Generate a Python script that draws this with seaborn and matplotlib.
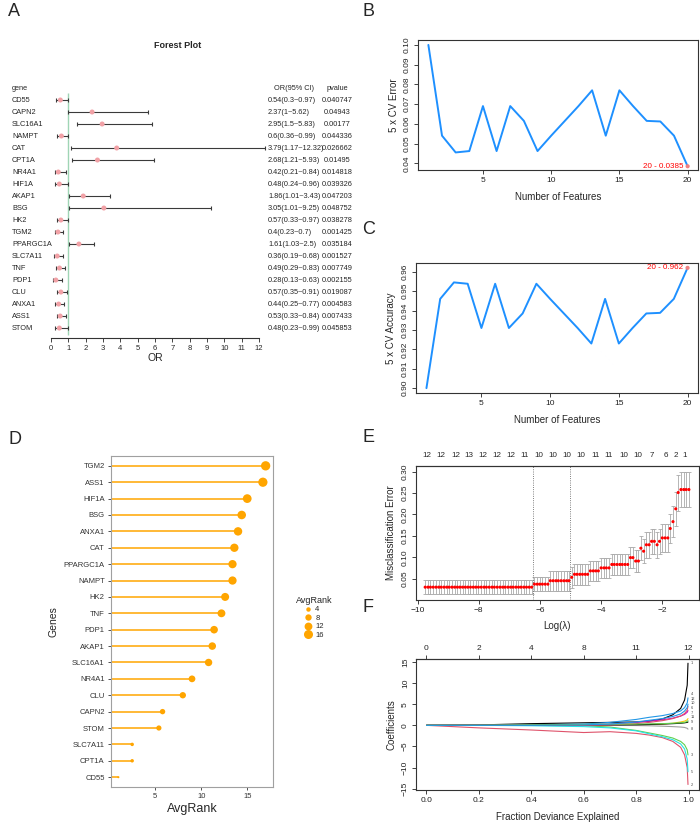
import numpy as np
import pandas as pd
import matplotlib
matplotlib.use("Agg")
import matplotlib.pyplot as plt
import seaborn as sns
from matplotlib import transforms
from matplotlib.lines import Line2D

# ---------------- data ----------------
# A: forest plot (univariate logistic regression)
fp_genes = ["CD55", "CAPN2", "SLC16A1", "NAMPT", "CAT", "CPT1A", "NR4A1", "HIF1A", "AKAP1", "BSG",
            "HK2", "TGM2", "PPARGC1A", "SLC7A11", "TNF", "PDP1", "CLU", "ANXA1", "ASS1", "STOM"]
fp_or = [0.54, 2.37, 2.95, 0.6, 3.79, 2.68, 0.42, 0.48, 1.86, 3.05,
         0.57, 0.4, 1.61, 0.36, 0.49, 0.28, 0.57, 0.44, 0.53, 0.48]
fp_lo = [0.3, 1, 1.5, 0.36, 1.17, 1.21, 0.21, 0.24, 1.01, 1.01,
         0.33, 0.23, 1.03, 0.19, 0.29, 0.13, 0.35, 0.25, 0.33, 0.23]
fp_hi = [0.97, 5.62, 5.83, 0.99, 12.32, 5.93, 0.84, 0.96, 3.43, 9.25,
         0.97, 0.7, 2.5, 0.68, 0.83, 0.63, 0.91, 0.77, 0.84, 0.99]
fp_p = [0.040747, 0.04943, 0.00177, 0.044336, 0.026662, 0.01495, 0.014818, 0.039326, 0.047203, 0.048752,
        0.038278, 0.001425, 0.035184, 0.001527, 0.007749, 0.002155, 0.019087, 0.004583, 0.007433, 0.045853]
or_ticks = list(range(0, 13))

# B / C: SVM-RFE curves
n_features = list(range(1, 21))
cv_error = [0.100, 0.054, 0.0455, 0.0462, 0.069, 0.0462, 0.069, 0.0615, 0.0462, 0.054,
            0.0615, 0.069, 0.077, 0.054, 0.077, 0.069, 0.0615, 0.0612, 0.054, 0.0385]
cv_acc = [0.900, 0.946, 0.9545, 0.9538, 0.931, 0.9538, 0.931, 0.9385, 0.9538, 0.946,
          0.9385, 0.931, 0.923, 0.946, 0.923, 0.931, 0.9385, 0.9388, 0.946, 0.962]

# D: average rank lollipop
rank_genes = ["TGM2", "ASS1", "HIF1A", "BSG", "ANXA1", "CAT", "PPARGC1A", "NAMPT", "HK2", "TNF",
              "PDP1", "AKAP1", "SLC16A1", "NR4A1", "CLU", "CAPN2", "STOM", "SLC7A11", "CPT1A", "CD55"]
avg_rank = [17.0, 16.7, 15.0, 14.4, 14.0, 13.6, 13.4, 13.4, 12.6, 12.2,
            11.4, 11.2, 10.8, 9.0, 8.0, 5.8, 5.4, 2.5, 2.5, 1.0]
rank_legend = [4, 8, 12, 16]

# E: LASSO cross-validation
log_lambda = [-9.75, -9.66, -9.58, -9.49, -9.40, -9.31, -9.23, -9.14, -9.05, -8.97,
              -8.88, -8.79, -8.70, -8.62, -8.53, -8.44, -8.36, -8.27, -8.18, -8.10,
              -8.01, -7.92, -7.83, -7.75, -7.66, -7.57, -7.49, -7.40, -7.31, -7.22,
              -7.14, -7.05, -6.96, -6.88, -6.79, -6.70, -6.62, -6.53, -6.44, -6.35,
              -6.27, -6.18, -6.09, -6.01, -5.92, -5.83, -5.74, -5.66, -5.57, -5.48,
              -5.40, -5.31, -5.22, -5.13, -5.05, -4.96, -4.87, -4.79, -4.70, -4.61,
              -4.52, -4.44, -4.35, -4.26, -4.18, -4.09, -4.00, -3.91, -3.83, -3.74,
              -3.65, -3.57, -3.48, -3.39, -3.31, -3.22, -3.13, -3.04, -2.96, -2.87,
              -2.78, -2.70, -2.61, -2.52, -2.43, -2.35, -2.26, -2.17, -2.09, -2.00,
              -1.91, -1.82, -1.74, -1.65, -1.56, -1.48, -1.39, -1.30, -1.22, -1.13]
cv_mean = ([0.030] * 41 + [0.037] * 6 + [0.045] * 8 + [0.053] + [0.060] * 6 + [0.068] * 4
           + [0.075] * 4 + [0.083] * 7 + [0.099] * 2 + [0.091] * 2
           + [0.121, 0.114, 0.129, 0.129, 0.137, 0.137, 0.129, 0.137, 0.145, 0.145, 0.145,
              0.167, 0.183, 0.213, 0.251, 0.258, 0.258, 0.258, 0.258])
cv_sd = ([0.0165] * 41 + [0.017] * 6 + [0.0235] * 8 + [0.024] + [0.024] * 6 + [0.024] * 4
         + [0.024] * 4 + [0.024] * 7 + [0.025] * 2 + [0.025] * 2
         + [0.028, 0.028, 0.03, 0.03, 0.03, 0.03, 0.03, 0.03, 0.032, 0.032, 0.032,
            0.035, 0.036, 0.04, 0.042, 0.041, 0.041, 0.041, 0.041])
lambda_min = -6.215
lambda_1se = -5.02
e_top_pos = [-9.70, -9.23, -8.76, -8.31, -7.85, -7.39, -6.94, -6.49, -6.02, -5.57,
             -5.11, -4.65, -4.19, -3.74, -3.26, -2.80, -2.34, -1.88, -1.56, -1.27]
e_top_nz = [12, 12, 12, 13, 12, 12, 12, 11, 10, 10, 10, 10, 11, 11, 10, 10, 7, 6, 2, 1]

# F: LASSO coefficient paths
dev_frac = [0.0, 0.2, 0.4, 0.6, 0.7, 0.8, 0.85, 0.9, 0.94, 0.97, 0.985, 0.995, 0.998]
coef_paths = {
    1: [0, 0.1, 0.4, 0.6, 0.7, 0.8, 1.0, 1.5, 2.5, 4.0, 6.0, 9.5, 14.7],
    2: [0, -0.6, -1.1, -1.7, -1.5, -1.9, -2.3, -2.9, -3.8, -5.2, -7.0, -10.0, -14.0],
    3: [0, 0, 0, -0.1, -0.4, -1.2, -1.8, -2.4, -3.0, -3.8, -4.6, -5.8, -7.0],
    4: [0, 0, 0.1, 0.3, 0.7, 1.4, 1.9, 2.3, 2.8, 3.4, 4.2, 5.3, 6.5],
    5: [0, 0, -0.1, -0.3, -0.6, -1.3, -2.0, -2.7, -3.4, -4.4, -5.6, -8.0, -11.0],
    6: [0, 0, 0, 0.1, 0.3, 0.7, 1.0, 1.3, 1.7, 2.2, 2.6, 3.1, 3.5],
    7: [0, 0, 0, 0, 0.05, 0.1, 0.2, 0.3, 0.5, 0.8, 1.0, 1.3, 1.6],
    8: [0, 0, 0, 0, 0, -0.05, -0.1, -0.2, -0.3, -0.4, -0.5, -0.7, -0.9],
    9: [0, 0, 0, 0.05, 0.1, 0.15, 0.2, 0.3, 0.4, 0.5, 0.6, 0.7, 0.8],
    10: [0, 0, 0, 0, 0.1, 0.4, 0.7, 1.1, 1.6, 2.2, 2.8, 3.6, 4.5],
    11: [0, 0, 0.1, 0.2, 0.3, 0.3, 0.35, 0.4, 0.5, 0.6, 0.7, 0.9, 1.1],
    12: [0, 0, 0, 0.1, 0.3, 0.8, 1.2, 1.6, 2.1, 2.7, 3.4, 4.2, 5.0],
}
f_top_pos = [0.0, 0.2, 0.4, 0.6, 0.8, 1.0]
f_top_df = [0, 2, 4, 8, 11, 12]

# ---------------- style ----------------
sns.set_style("ticks")
plt.rcParams['font.family'] = ['Liberation Sans', 'DejaVu Sans']
plt.rcParams['axes.linewidth'] = 0.8

W, H = 700, 824
fig = plt.figure(figsize=(7, 8.24), dpi=100)


def px_ax(l, t, r, b):
    return fig.add_axes([l / W, 1 - b / H, (r - l) / W, (b - t) / H])


def ftext(x, y, s, **kw):
    fig.text(x / W, 1 - y / H, s, **kw)


def r_axes(ax, xt, yt, yfmt="{:.2f}"):
    for sp in ax.spines.values():
        sp.set_visible(True)
        sp.set_color("#333333")
        sp.set_linewidth(0.8)
    ax.set_xticks(xt)
    ax.set_yticks(yt, [yfmt.format(v) for v in yt], rotation=90, va="center")
    ax.tick_params(direction="out", length=3, width=0.6, labelsize=6, pad=2, colors="#222222")


# ---------------- A: forest plot ----------------
axA = px_ax(51, 88, 259, 338)
rows = np.arange(len(fp_genes))
axA.set_xlim(0, 12)
axA.set_ylim(19.83, -1.0)
axA.vlines(1, -0.6, len(fp_genes) - 0.4, color="#9FD5B5", lw=1.0, zorder=1)
orr = np.array(fp_or)
eb = axA.errorbar(fp_or, rows, xerr=[orr - np.array(fp_lo), np.array(fp_hi) - orr], fmt="none",
                  ecolor="#3a3a3a", elinewidth=0.8, capsize=1.6, capthick=0.8, zorder=2)
for art in list(eb.lines[1]) + list(eb.lines[2]):
    art.set_clip_on(False)
sns.scatterplot(x=fp_or, y=rows, ax=axA, color="#F1A1A6", s=13, edgecolor="none", zorder=3, clip_on=False)
for s in ["left", "top", "right"]:
    axA.spines[s].set_visible(False)
axA.spines["bottom"].set_bounds(0, 12)
axA.spines["bottom"].set_color("#333333")
axA.set_xticks(or_ticks)
axA.set_yticks([])
axA.tick_params(axis="x", direction="out", length=3, width=0.6, labelsize=5.5, pad=2)
axA.set_xlabel("OR", fontsize=7.5, labelpad=1)
tA = transforms.blended_transform_factory(fig.transFigure, axA.transData)
axA.text(12 / W, -1, "gene", transform=tA, ha="left", va="center", fontsize=5.3)
axA.text(294 / W, -1, "OR(95% CI)", transform=tA, ha="center", va="center", fontsize=5.3)
axA.text(337 / W, -1, "pvalue", transform=tA, ha="center", va="center", fontsize=5.3)
for i, g in enumerate(fp_genes):
    axA.text(12 / W, i, g, transform=tA, ha="left", va="center", fontsize=5.3)
    axA.text(268 / W, i, f"{fp_or[i]:g}({fp_lo[i]:g}~{fp_hi[i]:g})", transform=tA,
             ha="left", va="center", fontsize=5.3)
    axA.text(337 / W, i, f"{fp_p[i]}", transform=tA, ha="center", va="center", fontsize=5.3)
ftext(178, 46, "Forest Plot", ha="center", va="center", fontsize=6.5, fontweight="bold")

# ---------------- B: CV error ----------------
axB = px_ax(418, 40, 698, 170)
sns.lineplot(x=n_features, y=cv_error, ax=axB, color="#1E90FF", lw=1.4)
sns.scatterplot(x=n_features[-1:], y=cv_error[-1:], ax=axB, color="#F08080", s=9, edgecolor="none", zorder=3)
axB.annotate(f"{n_features[-1]} - {cv_error[-1]}", (n_features[-1], cv_error[-1]), xytext=(-3, 0),
             textcoords="offset points", ha="right", va="center", color="red", fontsize=5.8)
axB.set_xlim(0.24, 20.76)
axB.set_ylim(0.0366, 0.1025)
r_axes(axB, [5, 10, 15, 20], [0.04, 0.05, 0.06, 0.07, 0.08, 0.09, 0.10])
axB.set_xlabel("Number of Features", fontsize=7, labelpad=6)
axB.set_ylabel("5 x CV Error", fontsize=7, labelpad=4)

# ---------------- C: CV accuracy ----------------
axC = px_ax(416, 263, 698, 393)
sns.lineplot(x=n_features, y=cv_acc, ax=axC, color="#1E90FF", lw=1.4)
sns.scatterplot(x=n_features[-1:], y=cv_acc[-1:], ax=axC, color="#F08080", s=9, edgecolor="none", zorder=3)
axC.annotate(f"{n_features[-1]} - {cv_acc[-1]}", (n_features[-1], cv_acc[-1]), xytext=(-3, 0),
             textcoords="offset points", ha="right", va="center", color="red", fontsize=5.8)
axC.set_xlim(0.24, 20.76)
axC.set_ylim(0.8975, 0.9645)
r_axes(axC, [5, 10, 15, 20], [0.90, 0.91, 0.92, 0.93, 0.94, 0.95, 0.96])
axC.set_xlabel("Number of Features", fontsize=7, labelpad=6)
axC.set_ylabel("5 x CV Accuracy", fontsize=7, labelpad=4)

# ---------------- D: lollipop ----------------
axD = px_ax(111, 456, 273, 787)
rr = np.arange(len(rank_genes))
orange = "#FFA500"
axD.hlines(rr, 0, avg_rank, color=orange, lw=1.1, zorder=2)
sns.scatterplot(x=avg_rank, y=rr, size=avg_rank, sizes=(2.3, 45), size_norm=(1, 17),
                color=orange, edgecolor="none", legend=False, ax=axD, zorder=3)
axD.set_xlim(0.2, 17.8)
axD.set_ylim(len(rank_genes) - 0.4, -0.6)
axD.set_xticks([5, 10, 15])
axD.set_yticks(rr, rank_genes)
for sp in axD.spines.values():
    sp.set_visible(True)
    sp.set_color("#A0A0A0")
    sp.set_linewidth(0.8)
axD.tick_params(direction="out", length=2.5, width=0.6, labelsize=5.5, pad=2, colors="#333333")
axD.set_xlabel("AvgRank", fontsize=9, labelpad=2)
axD.set_ylabel("Genes", fontsize=7.5, labelpad=4)
handles = [Line2D([], [], ls="", marker="o", color=orange, markeredgewidth=0,
                  markersize=np.sqrt(2.3 + (v - 1) / 16 * 42.7)) for v in rank_legend]
fig.legend(handles, [str(v) for v in rank_legend], title="AvgRank", loc="upper left",
           bbox_to_anchor=(292 / W, 1 - 592 / H), frameon=False, fontsize=5.5, title_fontsize=6.5,
           handletextpad=0.4, labelspacing=0.15, borderpad=0, handlelength=1.0)

# ---------------- E: LASSO CV ----------------
axE = px_ax(416, 466, 699, 600)
ebE = axE.errorbar(log_lambda, cv_mean, yerr=cv_sd, fmt="none", ecolor="#A9A9A9",
                   elinewidth=0.6, capsize=1.3, capthick=0.6, zorder=1)
sns.scatterplot(x=log_lambda, y=cv_mean, ax=axE, color="red", s=5, edgecolor="none", zorder=3)
axE.axvline(lambda_min, ls=":", color="#555555", lw=0.6)
axE.axvline(lambda_1se, ls=":", color="#555555", lw=0.6)
axE.set_xlim(-10.05, -0.8)
axE.set_ylim(0.0, 0.313)
r_axes(axE, [-10, -8, -6, -4, -2], [0.05, 0.10, 0.15, 0.20, 0.25, 0.30])
axE.set_xticklabels(["\u221210", "\u22128", "\u22126", "\u22124", "\u22122"])
axE.set_xlabel("Log(\u03bb)", fontsize=7, labelpad=5)
axE.set_ylabel("Misclassification Error", fontsize=7, labelpad=4)
secE = axE.secondary_xaxis("top")
secE.set_xticks(e_top_pos, [str(v) for v in e_top_nz])
secE.tick_params(axis="x", length=0, labelsize=5.8, pad=5)

# ---------------- F: coefficient paths ----------------
axF = px_ax(416, 659, 699, 790)
pal = {1: "black", 2: "#DF536B", 3: "#61D04F", 4: "#2297E6", 5: "#28E2E5", 6: "#CD0BBC",
       7: "#F5C710", 8: "#9E9E9E", 9: "black", 10: "#DF536B", 11: "#61D04F", 12: "#2297E6"}
dfF = pd.DataFrame([(k, d, c) for k, vals in coef_paths.items() for d, c in zip(dev_frac, vals)],
                   columns=["var", "dev", "coef"])
sns.lineplot(data=dfF, x="dev", y="coef", hue="var", palette=pal, lw=0.8, legend=False,
             estimator=None, ax=axF)
# variable labels at the right end, nudged apart so they do not sit on each other
ends = sorted(coef_paths.items(), key=lambda kv: kv[1][-1])
label_y = []
for k, vals in ends:
    y = vals[-1]
    if label_y and y - label_y[-1][1] < 1.1:
        y = label_y[-1][1] + 1.1
    label_y.append((k, y))
for k, y in label_y:
    axF.text(dev_frac[-1] + 0.012, y, str(k), fontsize=2.8, color="#444444", va="center")
axF.set_xlim(-0.04, 1.04)
axF.set_ylim(-15.3, 15.7)
r_axes(axF, [0.0, 0.2, 0.4, 0.6, 0.8, 1.0], [-15, -10, -5, 0, 5, 10, 15], yfmt="{:g}")
axF.set_xticklabels(["0.0", "0.2", "0.4", "0.6", "0.8", "1.0"])
axF.set_yticklabels(["\u221215", "\u221210", "\u22125", "0", "5", "10", "15"])
axF.set_xlabel("Fraction Deviance Explained", fontsize=7, labelpad=6)
axF.set_ylabel("Coefficients", fontsize=7, labelpad=4)
secF = axF.secondary_xaxis("top")
secF.set_xticks(f_top_pos, [str(v) for v in f_top_df])
secF.tick_params(axis="x", direction="out", length=3, width=0.6, labelsize=6, pad=2)

# ---------------- panel letters ----------------
for lab, x, y in [("A", 8, 12), ("B", 362, 12), ("C", 362, 230), ("D", 8, 440),
                  ("E", 362, 438), ("F", 362, 608)]:
    ftext(x, y, lab, ha="left", va="center", fontsize=13)

fig.savefig("out.png", dpi=100)
